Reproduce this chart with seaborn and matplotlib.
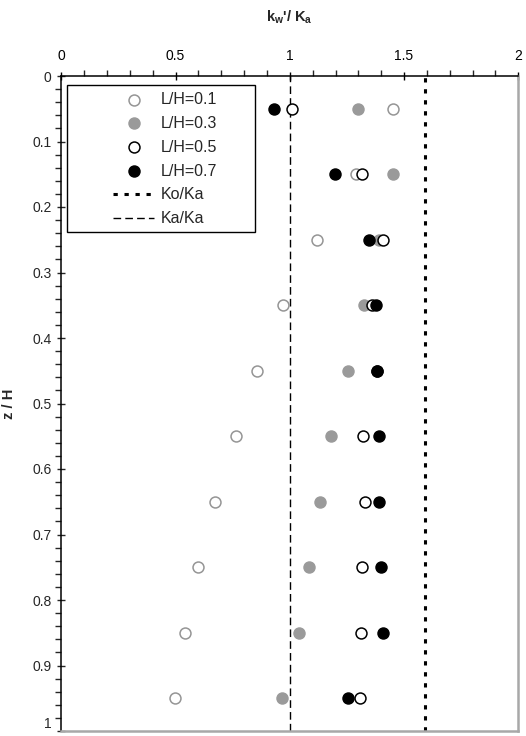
import matplotlib
matplotlib.use("Agg")
import matplotlib.pyplot as plt
from matplotlib.patches import Rectangle
from matplotlib.ticker import MultipleLocator
import numpy as np
import pandas as pd
import seaborn as sns

# ---- data ----
z_over_H = [0.05, 0.15, 0.25, 0.35, 0.45, 0.55, 0.65, 0.75, 0.85, 0.95]
lh_01 = [1.45, 1.29, 1.12, 0.97, 0.855, 0.765, 0.672, 0.597, 0.54, 0.497]
lh_03 = [1.30, 1.45, 1.39, 1.325, 1.253, 1.18, 1.13, 1.085, 1.04, 0.965]
lh_05 = [1.01, 1.315, 1.41, 1.358, 1.38, 1.322, 1.329, 1.315, 1.31, 1.308]
lh_07 = [0.93, 1.196, 1.345, 1.377, 1.382, 1.389, 1.39, 1.399, 1.41, 1.253]
series_labels = ["L/H=0.1", "L/H=0.3", "L/H=0.5", "L/H=0.7"]
ko_ka = 1.59
ka_ka = 1.0
x_ticks = [0, 0.5, 1, 1.5, 2]
x_tick_labels = ["0", "0.5", "1", "1.5", "2"]
y_ticks = [0, 0.1, 0.2, 0.3, 0.4, 0.5, 0.6, 0.7, 0.8, 0.9, 1]
y_tick_labels = ["0", "0.1", "0.2", "0.3", "0.4", "0.5", "0.6", "0.7", "0.8", "0.9", "1"]

sns.set_style("white")
plt.rcParams["font.family"] = ["Liberation Sans", "DejaVu Sans"]
plt.rcParams["mathtext.fontset"] = "custom"
plt.rcParams["mathtext.rm"] = "Liberation Sans"
plt.rcParams["mathtext.bf"] = "Liberation Sans:bold"
plt.rcParams["mathtext.it"] = "Liberation Sans:italic"

frames = []
for lab, vals in zip(series_labels, [lh_01, lh_03, lh_05, lh_07]):
    frames.append(pd.DataFrame({"ratio": vals, "z": z_over_H, "series": lab}))
df = pd.concat(frames, ignore_index=True)

fig = plt.figure(figsize=(5.26, 7.36), dpi=100)
ax = fig.add_axes([61.3 / 526, 1 - 731 / 736, 457 / 526, 655 / 736])

styles = {
    "L/H=0.1": dict(facecolor="white", edgecolor="#959595"),
    "L/H=0.3": dict(facecolor="#9a9a9a", edgecolor="#9a9a9a"),
    "L/H=0.5": dict(facecolor="white", edgecolor="black"),
    "L/H=0.7": dict(facecolor="black", edgecolor="black"),
}
for i, lab in enumerate(series_labels):
    sub = df[df["series"] == lab]
    sns.scatterplot(data=sub, x="ratio", y="z", ax=ax, s=62, marker="o",
                    linewidth=1.1, label=lab, zorder=3 + i, **styles[lab])

ax.axvline(ko_ka, color="black", lw=2.2, linestyle=(0, (1.4, 2.2)), label="Ko/Ka", zorder=2)
ax.axvline(ka_ka, color="black", lw=1.0, linestyle=(0, (5.5, 3)), label="Ka/Ka", zorder=2)

ax.set_xlim(0, 2)
ax.set_ylim(1, 0)
ax.xaxis.tick_top()
ax.xaxis.set_label_position("top")
ax.set_xticks(x_ticks)
ax.set_xticklabels(x_tick_labels)
ax.set_yticks(y_ticks)
ax.set_yticklabels(y_tick_labels)
ax.get_yticklabels()[-1].set_verticalalignment("bottom")
ax.xaxis.set_minor_locator(MultipleLocator(0.1))
ax.yaxis.set_minor_locator(MultipleLocator(0.02))
ax.tick_params(axis="x", which="major", direction="inout", length=6, width=1,
               top=True, bottom=False, labelsize=10, pad=6, colors="black")
ax.tick_params(axis="x", which="minor", direction="out", length=4, width=1,
               top=True, bottom=False)
ax.tick_params(axis="y", which="major", direction="inout", length=6, width=1,
               left=True, labelsize=10, pad=4)
ax.tick_params(axis="y", which="minor", direction="out", length=4, width=1, left=True)

ax.set_xlabel(r"k$_\mathbf{w}$'/ K$_\mathbf{a}$", fontsize=10.5, fontweight="bold", labelpad=20)
ax.set_ylabel("z / H", fontsize=10.5, fontweight="bold", labelpad=12)

for side in ["top", "left"]:
    ax.spines[side].set_color("black")
    ax.spines[side].set_linewidth(1.1)
for side in ["right", "bottom"]:
    ax.spines[side].set_color("#a8a8a8")
    ax.spines[side].set_linewidth(1.8)

# legend box
ax.add_patch(Rectangle((0.012, 0.762), 0.412, 0.224, transform=ax.transAxes,
                       facecolor="white", edgecolor="black", lw=1.0, zorder=1))
leg = ax.legend(loc="upper left", bbox_to_anchor=(0.113, 0.976), frameon=False,
                fontsize=11.5, borderpad=0, handlelength=2.6, handletextpad=0.37,
                labelspacing=0.56, borderaxespad=0)
leg.set_zorder(10)

fig.savefig("out.png", dpi=100)
